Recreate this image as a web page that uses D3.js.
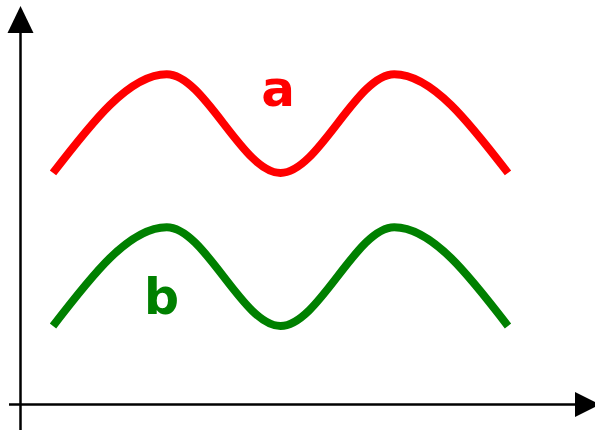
<!DOCTYPE html>
<html>
<head>
<meta charset="utf-8">
<script src="https://cdn.jsdelivr.net/npm/d3@7"></script>
<style>
  html, body { margin: 0; padding: 0; background: #fff; }
  svg { display: block; }
  .label { font-family: "DejaVu Sans", sans-serif; font-weight: bold; }
</style>
</head>
<body>
<svg id="chart" width="595" height="430"></svg>
<script>
var WIDTH = 595, HEIGHT = 430;

// ── Data ────────────────────────────────────────────────────────────
var xValues = [0, 1, 2, 3, 4];
var seriesA = [2.35, 3.35, 2.35, 3.35, 2.35];
var seriesB = [0.8, 1.8, 0.8, 1.8, 0.8];
var seriesNames = ["a", "b"];
var seriesColors = ["#ff0000", "#008000"];
// label anchor positions, in data units
var labelX = [1.83, 0.8];
var labelY = [3.03, 0.92];
var labelSize = [50, 49];

var svg = d3.select("#chart");

// ── Scales ──────────────────────────────────────────────────────────
var x = d3.scaleLinear().domain([0, 4]).range([53, 508]);
var y = d3.scaleLinear().domain([0, 4]).range([405, 10]);

// ── Axes (plain lines with filled arrow heads) ─────────────────────
var axisX = 20.5, axisY = 404.5;

svg.append("line")
  .attr("x1", axisX).attr("y1", HEIGHT)
  .attr("x2", axisX).attr("y2", 30)
  .attr("stroke", "#000").attr("stroke-width", 2.5);
svg.append("path")
  .attr("d", "M" + axisX + ",6L" + (axisX + 13) + ",33L" + (axisX - 13) + ",33Z")
  .attr("fill", "#000");

svg.append("line")
  .attr("x1", 9).attr("y1", axisY)
  .attr("x2", 578).attr("y2", axisY)
  .attr("stroke", "#000").attr("stroke-width", 2.5);
svg.append("path")
  .attr("d", "M600," + axisY + "L575," + (axisY - 12.5) + "L575," + (axisY + 12.5) + "Z")
  .attr("fill", "#000");

// ── Curves ──────────────────────────────────────────────────────────
var line = d3.line()
  .x(function (d, i) { return x(xValues[i]); })
  .y(function (d) { return y(d); })
  .curve(d3.curveMonotoneX);

[seriesA, seriesB].forEach(function (s, i) {
  svg.append("path")
    .attr("d", line(s))
    .attr("fill", "none")
    .attr("stroke", seriesColors[i])
    .attr("stroke-width", 8);
});

// ── Labels ──────────────────────────────────────────────────────────
seriesNames.forEach(function (n, i) {
  svg.append("text")
    .attr("class", "label")
    .attr("x", x(labelX[i]))
    .attr("y", y(labelY[i]))
    .attr("font-size", labelSize[i])
    .attr("fill", seriesColors[i])
    .text(n);
});
</script>
</body>
</html>
